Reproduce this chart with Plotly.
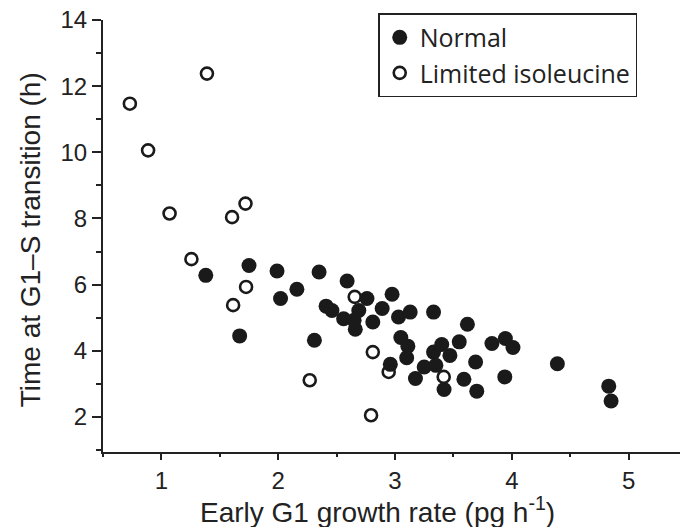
import plotly.graph_objects as go

# Normal
normal_x = [1.38, 1.67, 1.75, 1.99, 2.02, 2.16, 2.31, 2.35, 2.41, 2.46, 2.56, 2.59, 2.65, 2.66, 2.69,
            2.76, 2.81, 2.89, 2.975, 2.96, 3.03, 3.05, 3.10, 3.11, 3.13, 3.175, 3.25, 3.33, 3.33, 3.35,
            3.40, 3.42, 3.47, 3.55, 3.59, 3.62, 3.69, 3.70, 3.83, 3.94, 3.945, 4.01, 4.39, 4.83, 4.85]
normal_y = [6.28, 4.45, 6.58, 6.41, 5.58, 5.86, 4.32, 6.38, 5.35, 5.22, 4.97, 6.11, 4.92, 4.65, 5.22,
            5.58, 4.87, 5.28, 5.71, 3.59, 5.02, 4.40, 3.79, 4.14, 5.17, 3.16, 3.51, 5.17, 3.96, 3.56,
            4.19, 2.83, 3.86, 4.27, 3.14, 4.80, 3.66, 2.78, 4.22, 3.21, 4.37, 4.10, 3.61, 2.93, 2.48]

# Limited isoleucine
limited_x = [0.73, 0.886, 1.07, 1.39, 1.605, 1.72, 1.257, 1.614, 1.725, 2.27, 2.655, 2.795, 2.81, 2.946, 3.417]
limited_y = [11.47, 10.06, 8.15, 12.38, 8.04, 8.45, 6.77, 5.38, 5.93, 3.11, 5.63, 2.05, 3.96, 3.36, 3.21]

x_ticks = [1, 2, 3, 4, 5]
y_ticks = [2, 4, 6, 8, 10, 12, 14]

fig = go.Figure()
fig.add_trace(go.Scatter(
    x=normal_x, y=normal_y, mode="markers", name="Normal",
    marker=dict(symbol="circle", size=15, color="#1a1a1a", line=dict(width=0)),
))
fig.add_trace(go.Scatter(
    x=limited_x, y=limited_y, mode="markers", name="Limited isoleucine",
    marker=dict(symbol="circle-open", size=12, color="#1a1a1a", line=dict(width=2.6)),
))

sans = "Liberation Sans, Arial, sans-serif"
tick_font = dict(family=sans, size=24, color="#222")
title_font = dict(family=sans, size=28, color="#222")

fig.update_layout(
    width=680, height=527,
    margin=dict(l=103, r=0, t=20, b=75),
    paper_bgcolor="white", plot_bgcolor="white",
    showlegend=True,
    legend=dict(
        x=0.477, y=1.016, xanchor="left", yanchor="top",
        bordercolor="#222", borderwidth=1.5, bgcolor="white",
        font=dict(family="Open Sans, Lato, sans-serif", size=25, color="#222"),
        itemsizing="trace", tracegroupgap=0,
    ),
    xaxis=dict(
        range=[0.5, 5.44], tickvals=x_ticks, ticks="outside", ticklen=6, tickwidth=1.8,
        tickcolor="#222", showline=True, linecolor="#222", linewidth=2, showgrid=False,
        zeroline=False, tickfont=tick_font,
        minor=dict(dtick=0.5, tick0=0.5, ticks="outside", ticklen=3, tickwidth=1.5, tickcolor="#222"),
    ),
    yaxis=dict(
        range=[0.94, 14], tickvals=y_ticks, ticks="outside", ticklen=9, tickwidth=1.8,
        tickcolor="#222", showline=True, linecolor="#222", linewidth=2, showgrid=False,
        zeroline=False, tickfont=tick_font,
        minor=dict(dtick=1, tick0=1, ticks="outside", ticklen=5, tickwidth=1.5, tickcolor="#222"),
    ),
    annotations=[
        dict(
            text="Early G1 growth rate (pg h<sup>-1</sup>)", xref="paper", yref="paper",
            x=0.475, y=-0.135, xanchor="center", yanchor="middle", showarrow=False,
            font=title_font,
        ),
        dict(
            text="Time at G1–S transition (h)", xref="paper", yref="paper",
            x=-0.1265, y=0.49, xanchor="center", yanchor="middle", showarrow=False,
            textangle=-90, font=title_font,
        ),
    ],
)

fig.write_html("out.html")
